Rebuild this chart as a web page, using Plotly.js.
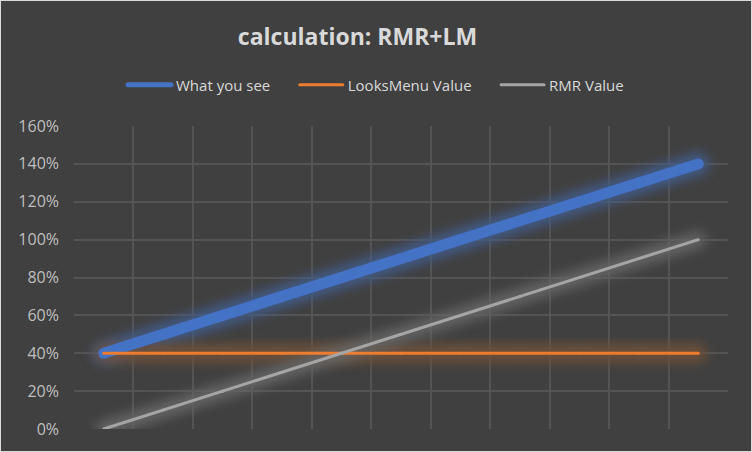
<!DOCTYPE html>
<html>
<head>
<meta charset="utf-8">
<script src="https://cdn.plot.ly/plotly-3.0.1.min.js"></script>
<style>
  html, body { margin: 0; padding: 0; background: #404040; }
  #wrap { width: 750px; height: 450px; border: 1px solid #d9d9d9; }
  #chart { width: 750px; height: 450px; }
</style>
</head>
<body>
<div id="wrap"><div id="chart"></div></div>
<script>
const categories = [1, 2, 3, 4, 5, 6, 7, 8, 9, 10, 11];
const whatYouSee = [0.4, 0.5, 0.6, 0.7, 0.8, 0.9, 1.0, 1.1, 1.2, 1.3, 1.4];
const looksMenuValue = [0.4, 0.4, 0.4, 0.4, 0.4, 0.4, 0.4, 0.4, 0.4, 0.4, 0.4];
const rmrValue = [0.0, 0.1, 0.2, 0.3, 0.4, 0.5, 0.6, 0.7, 0.8, 0.9, 1.0];
const seriesNames = ['What you see', 'LooksMenu Value', 'RMR Value'];
const yTickVals = [0, 0.2, 0.4, 0.6, 0.8, 1.0, 1.2, 1.4, 1.6];

const pad = '&nbsp;&nbsp;&nbsp;&nbsp;&nbsp;';
const series = [
  {name: seriesNames[0] + pad, y: whatYouSee, color: '#4472c4', width: 11, glow: '#425b89', gw: 22, lw: 5},
  {name: seriesNames[1] + pad, y: looksMenuValue, color: '#ed7d31', width: 3, glow: '#6e5038', gw: 18, lw: 3},
  {name: seriesNames[2], y: rmrValue, color: '#a5a5a5', width: 3, glow: '#656565', gw: 16, lw: 3}
];

const traces = [];
// glow layers (blurred after render)
series.forEach(s => {
  traces.push({
    x: categories, y: s.y, type: 'scatter', mode: 'lines+markers',
    line: {color: s.glow, width: s.gw},
    marker: {color: s.glow, size: s.gw, line: {width: 0}},
    showlegend: false, hoverinfo: 'skip'
  });
});
// main lines
series.forEach(s => {
  traces.push({
    x: categories, y: s.y, type: 'scatter', mode: 'lines+markers', name: s.name,
    line: {color: s.color, width: s.width},
    marker: {color: s.color, size: s.width, line: {width: 0}},
    showlegend: true
  });
});

const layout = {
  width: 750, height: 450,
  paper_bgcolor: '#404040', plot_bgcolor: '#404040',
  margin: {l: 73, r: 23, t: 125, b: 22},
  title: {
    text: '<b>calculation: RMR+LM</b>',
    font: {family: 'Open Sans', size: 23, color: '#d9d9d9'},
    x: 356.5 / 750, xanchor: 'center', y: 1 - 36 / 450, yanchor: 'middle', yref: 'container'
  },
  legend: {
    orientation: 'h', x: 0.5, xanchor: 'center', xref: 'container',
    y: 1 - 84 / 450, yanchor: 'middle', yref: 'container',
    font: {family: 'Open Sans', size: 15, color: '#d9d9d9'},
    bgcolor: 'rgba(0,0,0,0)', itemwidth: 43, tracegroupgap: 0
  },
  xaxis: {
    range: [0.5, 11.5], tick0: 0.5, dtick: 1, showticklabels: false,
    showgrid: true, gridcolor: '#545454', gridwidth: 2,
    zeroline: false, showline: false, ticks: '', fixedrange: true
  },
  yaxis: {
    range: [0, 1.6], tickvals: yTickVals, tickformat: '.0%',
    showgrid: true, gridcolor: '#545454', gridwidth: 2,
    zeroline: true, zerolinecolor: '#404040', showline: false, ticks: '',
    ticklabelstandoff: 14,
    tickfont: {family: 'Open Sans', size: 16, color: '#bfbfbf'}, fixedrange: true
  },
  showlegend: true
};

Plotly.newPlot('chart', traces, layout, {displayModeBar: false, staticPlot: true}).then(() => {
  const tr = document.querySelectorAll('.scatterlayer .trace');
  for (let i = 0; i < series.length; i++) {
    tr[i].style.filter = 'blur(6px)';
  }
  const items = document.querySelectorAll('.legend .traces');
  items.forEach((it, i) => {
    it.querySelectorAll('.legendlines path').forEach(p => {
      p.style.strokeWidth = series[i].lw + 'px';
      p.style.strokeLinecap = 'round';
    });
    it.querySelectorAll('.legendpoints path').forEach(p => { p.style.display = 'none'; });
  });
});
</script>
</body>
</html>
